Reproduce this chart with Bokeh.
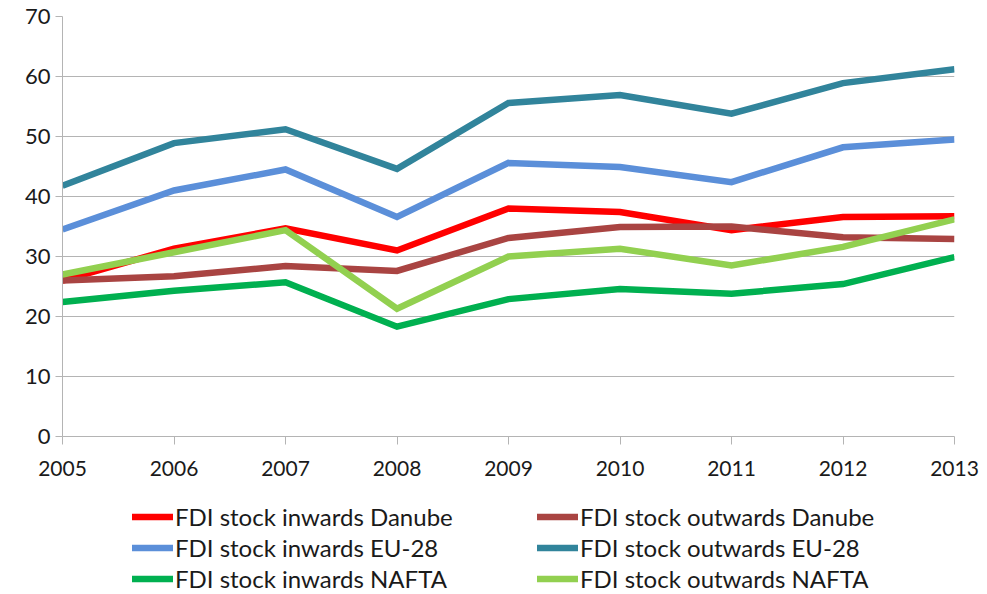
from bokeh.plotting import figure
from bokeh.models import Legend, LegendItem, Range1d, FixedTicker
from bokeh.layouts import column
from bokeh.embed import file_html
from bokeh.resources import INLINE

years = [2005, 2006, 2007, 2008, 2009, 2010, 2011, 2012, 2013]
inwards_danube = [26.0, 31.3, 34.7, 31.0, 38.0, 37.4, 34.4, 36.6, 36.7]
outwards_danube = [26.0, 26.7, 28.4, 27.6, 33.1, 34.9, 35.0, 33.2, 32.9]
inwards_eu28 = [34.5, 41.0, 44.5, 36.6, 45.6, 44.9, 42.4, 48.2, 49.5]
outwards_eu28 = [41.8, 48.9, 51.2, 44.6, 55.6, 56.9, 53.8, 58.9, 61.2]
inwards_nafta = [22.4, 24.3, 25.7, 18.3, 22.9, 24.6, 23.8, 25.4, 29.9]
outwards_nafta = [27.0, 30.7, 34.4, 21.3, 30.0, 31.3, 28.5, 31.6, 36.2]

series_names = [
    "FDI stock inwards Danube", "FDI stock outwards Danube",
    "FDI stock inwards EU-28", "FDI stock outwards EU-28",
    "FDI stock inwards NAFTA", "FDI stock outwards NAFTA",
]
series_values = [inwards_danube, outwards_danube, inwards_eu28,
                 outwards_eu28, inwards_nafta, outwards_nafta]
colors = ["#FF0000", "#A94442", "#5B8FD9", "#31849B", "#00B050", "#92D050"]

y_ticks = [0, 10, 20, 30, 40, 50, 60, 70]

FONT = "Lato"
GRID = "#B4B4B4"
LW = 6.5

p = figure(frame_width=892, frame_height=420, output_backend="svg",
           toolbar_location=None,
           x_range=Range1d(2005, 2013), y_range=Range1d(0, 70),
           min_border_left=62, min_border_right=31, min_border_top=16,
           min_border_bottom=58)
p.outline_line_color = None
p.background_fill_color = "white"

for name, vals, col in zip(series_names, series_values, colors):
    p.line(years, vals, line_color=col, line_width=LW, line_join="miter")

p.xaxis.ticker = FixedTicker(ticks=years)
p.yaxis.ticker = FixedTicker(ticks=y_ticks)
for ax in (p.xaxis[0], p.yaxis[0]):
    ax.axis_line_color = GRID
    ax.major_tick_line_color = GRID
    ax.minor_tick_line_color = None
    ax.major_tick_in = 0
    ax.major_label_text_font = FONT
    ax.major_label_text_color = "#1a1a1a"
p.xaxis.major_tick_out = 8
p.yaxis.major_tick_out = 7
p.xaxis.major_label_text_font_size = "21px"
p.yaxis.major_label_text_font_size = "22px"
p.xaxis.major_label_standoff = 16
p.yaxis.major_label_standoff = 5

p.xgrid.grid_line_color = None
p.ygrid.grid_line_color = GRID
p.ygrid.grid_line_width = 1
p.ygrid.ticker = FixedTicker(ticks=y_ticks)

# Legend panel below the chart (its frame is aligned with the chart's frame)
lg = figure(width=985, height=100, output_backend="svg", toolbar_location=None,
            x_range=Range1d(0, 1), y_range=Range1d(0, 1),
            x_axis_type=None, y_axis_type=None,
            min_border_left=62, min_border_right=31, min_border_top=0,
            min_border_bottom=0)
lg.outline_line_color = None
lg.xgrid.grid_line_color = None
lg.ygrid.grid_line_color = None

items = []
for name, vals, col in zip(series_names, series_values, colors):
    # same series, kept outside this panel's view; only its legend swatch shows
    r = lg.line(years, vals, line_color=col, line_width=LW, line_cap="round")
    items.append(LegendItem(label=name, renderers=[r]))

legend = Legend(items=items, orientation="horizontal", ncols=2,
                location=(70, 0))
legend.border_line_color = None
legend.background_fill_alpha = 0
legend.label_text_font = FONT
legend.label_text_font_size = "24px"
legend.label_text_color = "#1a1a1a"
legend.glyph_width = 41
legend.glyph_height = 31
legend.label_height = 31
legend.label_standoff = 2
legend.label_width = 362
legend.spacing = 0
legend.padding = 0
legend.margin = 0
lg.add_layout(legend, "center")

layout = column(p, lg, spacing=0)
open("out.html", "w").write(file_html(layout, INLINE))
